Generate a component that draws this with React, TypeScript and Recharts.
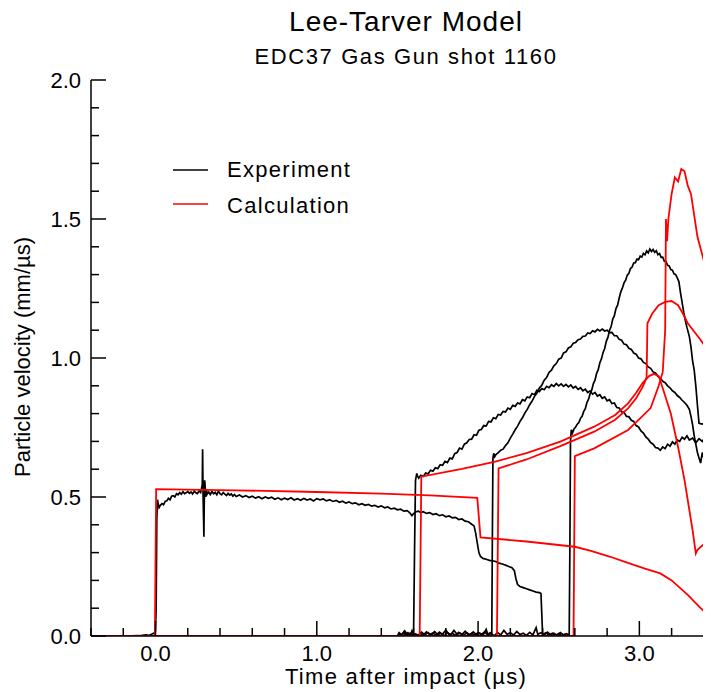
import React from 'react';
import { LineChart, Line, XAxis, YAxis } from 'recharts';

const FONT = "'Liberation Sans', Arial, Helvetica, sans-serif";

const xTicks = [-0.4, -0.2, 0, 0.2, 0.4, 0.6, 0.8, 1, 1.2, 1.4, 1.6, 1.8, 2, 2.2, 2.4, 2.6, 2.8, 3, 3.2, 3.4];
const xMajor = [0, 1, 2, 3];
const yTicks = [0, 0.1, 0.2, 0.3, 0.4, 0.5, 0.6, 0.7, 0.8, 0.9, 1, 1.1, 1.2, 1.3, 1.4, 1.5, 1.6, 1.7, 1.8, 1.9, 2];
const yMajor = [0, 0.5, 1, 1.5, 2];

const title = 'Lee-Tarver Model';
const subtitle = 'EDC37 Gas Gun shot 1160';
const xLabel = 'Time after impact (µs)';
const yLabel = 'Particle velocity (mm/µs)';
const seriesNames = ['Experiment', 'Calculation'];

// Experiment, gauge 1 [time µs, velocity mm/µs]
const exp1 = [[-0.4,0],[-0.2,0],[-0.1,0.001],[-0.06,0.004],[-0.04,0.002],[-0.025,0.006],[-0.012,0.01],[-0.005,0.008],[0.0,0.02],[0.004,0.1],[0.008,0.42],[0.012,0.49],[0.016,0.478],[0.022,0.462],[0.03,0.47],[0.04,0.476],[0.05,0.472],[0.06,0.484],[0.07,0.486],[0.08,0.495],[0.09,0.49],[0.1,0.503],[0.11,0.505],[0.12,0.5],[0.13,0.512],[0.14,0.508],[0.15,0.516],[0.16,0.51],[0.17,0.519],[0.18,0.512],[0.19,0.515],[0.2,0.52],[0.21,0.513],[0.22,0.518],[0.23,0.511],[0.24,0.521],[0.25,0.515],[0.26,0.512],[0.27,0.522],[0.28,0.516],[0.285,0.53],[0.29,0.545],[0.292,0.672],[0.295,0.5],[0.298,0.42],[0.3,0.357],[0.302,0.47],[0.305,0.56],[0.308,0.535],[0.312,0.5],[0.316,0.527],[0.32,0.51],[0.33,0.518],[0.34,0.509],[0.35,0.52],[0.36,0.512],[0.37,0.517],[0.38,0.508],[0.39,0.521],[0.4,0.512],[0.41,0.508],[0.42,0.516],[0.43,0.51],[0.44,0.505],[0.45,0.513],[0.46,0.507],[0.47,0.511],[0.48,0.503],[0.49,0.509],[0.5,0.502],[0.52,0.507],[0.54,0.5],[0.56,0.505],[0.58,0.498],[0.6,0.503],[0.62,0.496],[0.64,0.501],[0.66,0.494],[0.68,0.5],[0.7,0.495],[0.72,0.499],[0.74,0.492],[0.76,0.497],[0.78,0.49],[0.8,0.496],[0.82,0.491],[0.84,0.497],[0.86,0.489],[0.88,0.494],[0.9,0.488],[0.92,0.495],[0.94,0.489],[0.96,0.493],[0.98,0.486],[1.0,0.494],[1.02,0.49],[1.04,0.493],[1.06,0.486],[1.08,0.49],[1.1,0.484],[1.12,0.488],[1.14,0.481],[1.16,0.485],[1.18,0.478],[1.2,0.482],[1.22,0.476],[1.24,0.479],[1.26,0.472],[1.28,0.476],[1.3,0.47],[1.32,0.473],[1.34,0.467],[1.36,0.47],[1.38,0.464],[1.4,0.468],[1.42,0.461],[1.44,0.464],[1.46,0.457],[1.48,0.46],[1.5,0.454],[1.52,0.456],[1.54,0.449],[1.56,0.451],[1.575,0.444],[1.59,0.433],[1.6,0.44],[1.615,0.447],[1.63,0.449],[1.645,0.444],[1.66,0.447],[1.68,0.441],[1.7,0.444],[1.72,0.437],[1.74,0.44],[1.76,0.433],[1.78,0.436],[1.8,0.429],[1.82,0.432],[1.84,0.425],[1.86,0.427],[1.88,0.419],[1.9,0.421],[1.92,0.413],[1.94,0.411],[1.96,0.402],[1.975,0.396],[1.985,0.37],[1.995,0.335],[2.005,0.3],[2.015,0.286],[2.03,0.279],[2.05,0.276],[2.07,0.272],[2.09,0.27],[2.11,0.268],[2.13,0.262],[2.15,0.259],[2.17,0.255],[2.19,0.25],[2.21,0.246],[2.225,0.235],[2.235,0.205],[2.245,0.185],[2.26,0.178],[2.28,0.174],[2.3,0.17],[2.32,0.166],[2.34,0.162],[2.36,0.158],[2.38,0.156],[2.39,0.153],[2.395,0.08],[2.4,0.005],[2.42,0.012],[2.44,0.003],[2.46,0.01],[2.48,0.002],[2.5,0.009],[2.52,0.001],[2.54,0.006],[2.55,0]];

// Experiment, gauge 2
const exp2 = [[1.5,0],[1.515,0.008],[1.525,0.002],[1.54,0.015],[1.55,0.004],[1.565,0.012],[1.58,0.003],[1.59,0.018],[1.6,0.005],[1.606,0.3],[1.612,0.56],[1.62,0.585],[1.625,0.575],[1.632,0.568],[1.645,0.578],[1.66,0.574],[1.675,0.586],[1.69,0.583],[1.705,0.596],[1.72,0.593],[1.735,0.605],[1.75,0.602],[1.765,0.616],[1.78,0.614],[1.795,0.628],[1.81,0.624],[1.825,0.64],[1.84,0.637],[1.855,0.656],[1.87,0.66],[1.885,0.676],[1.9,0.672],[1.915,0.69],[1.93,0.695],[1.945,0.707],[1.96,0.708],[1.975,0.724],[1.99,0.722],[2.005,0.74],[2.02,0.743],[2.035,0.757],[2.05,0.755],[2.065,0.772],[2.08,0.77],[2.095,0.785],[2.11,0.782],[2.125,0.797],[2.14,0.795],[2.155,0.808],[2.17,0.806],[2.185,0.82],[2.2,0.815],[2.215,0.83],[2.23,0.826],[2.245,0.838],[2.26,0.835],[2.275,0.85],[2.29,0.846],[2.305,0.86],[2.32,0.857],[2.335,0.872],[2.35,0.868],[2.365,0.884],[2.38,0.879],[2.395,0.89],[2.41,0.886],[2.425,0.898],[2.44,0.893],[2.455,0.904],[2.47,0.898],[2.485,0.908],[2.5,0.9],[2.515,0.907],[2.53,0.898],[2.545,0.905],[2.56,0.896],[2.575,0.903],[2.59,0.892],[2.605,0.898],[2.62,0.887],[2.635,0.893],[2.65,0.882],[2.665,0.888],[2.68,0.876],[2.695,0.882],[2.71,0.87],[2.725,0.876],[2.74,0.863],[2.755,0.868],[2.77,0.855],[2.785,0.86],[2.8,0.846],[2.815,0.85],[2.83,0.836],[2.845,0.838],[2.86,0.822],[2.875,0.82],[2.89,0.806],[2.905,0.805],[2.92,0.79],[2.935,0.789],[2.95,0.776],[2.965,0.772],[2.98,0.757],[2.995,0.752],[3.01,0.738],[3.025,0.73],[3.04,0.716],[3.055,0.708],[3.07,0.696],[3.085,0.69],[3.1,0.678],[3.115,0.676],[3.13,0.668],[3.145,0.68],[3.16,0.674],[3.175,0.69],[3.19,0.683],[3.205,0.698],[3.22,0.69],[3.235,0.705],[3.25,0.7],[3.265,0.715],[3.28,0.708],[3.295,0.72],[3.31,0.705],[3.33,0.712],[3.35,0.695],[3.37,0.71],[3.39,0.7],[3.41,0.718],[3.43,0.708],[3.45,0.722],[3.5,0.73]];

// Experiment, gauge 3
const exp3 = [[1.5,0],[1.52,0.006],[1.535,0.0],[1.55,0.01],[1.57,0.002],[1.59,-0.005],[1.61,0.008],[1.63,0.003],[1.65,0.014],[1.67,0.004],[1.69,0.012],[1.71,0.002],[1.73,0.016],[1.75,0.005],[1.77,0.009],[1.79,0.001],[1.81,0.013],[1.83,0.004],[1.85,0.02],[1.87,0.006],[1.89,0.01],[1.91,0.002],[1.93,0.012],[1.95,0.003],[1.97,0.015],[1.99,0.005],[2.01,0.011],[2.03,0.002],[2.05,0.024],[2.06,0.006],[2.075,0.012],[2.085,0.003],[2.088,0.3],[2.092,0.64],[2.097,0.657],[2.103,0.645],[2.11,0.652],[2.125,0.66],[2.14,0.668],[2.155,0.672],[2.17,0.685],[2.185,0.695],[2.2,0.712],[2.215,0.726],[2.23,0.742],[2.245,0.755],[2.26,0.772],[2.275,0.785],[2.29,0.802],[2.305,0.815],[2.32,0.832],[2.335,0.845],[2.35,0.862],[2.365,0.874],[2.38,0.892],[2.395,0.902],[2.41,0.92],[2.425,0.93],[2.44,0.948],[2.455,0.956],[2.47,0.972],[2.485,0.98],[2.5,0.996],[2.515,1.0],[2.53,1.018],[2.545,1.022],[2.56,1.036],[2.575,1.04],[2.59,1.053],[2.605,1.056],[2.62,1.066],[2.635,1.068],[2.65,1.078],[2.665,1.079],[2.68,1.09],[2.695,1.088],[2.71,1.098],[2.725,1.094],[2.74,1.103],[2.755,1.097],[2.77,1.104],[2.785,1.097],[2.8,1.1],[2.815,1.091],[2.83,1.092],[2.845,1.08],[2.86,1.08],[2.875,1.067],[2.89,1.064],[2.905,1.05],[2.92,1.048],[2.935,1.035],[2.95,1.031],[2.965,1.018],[2.98,1.014],[2.995,1.0],[3.01,0.997],[3.025,0.984],[3.04,0.98],[3.055,0.968],[3.07,0.963],[3.085,0.95],[3.1,0.946],[3.115,0.934],[3.13,0.928],[3.145,0.916],[3.16,0.911],[3.175,0.9],[3.19,0.893],[3.205,0.882],[3.22,0.876],[3.235,0.865],[3.25,0.858],[3.265,0.848],[3.28,0.84],[3.295,0.83],[3.31,0.815],[3.32,0.79],[3.33,0.76],[3.34,0.72],[3.35,0.69],[3.36,0.66],[3.37,0.64],[3.38,0.622],[3.39,0.66],[3.4,0.64],[3.41,0.68],[3.42,0.7],[3.43,0.69],[3.45,0.72],[3.5,0.74]];

// Experiment, gauge 4
const exp4 = [[1.5,0],[1.51,0.012],[1.525,0.004],[1.545,0.018],[1.56,0.006],[1.58,0.01],[1.6,0.0],[1.62,-0.006],[1.64,0.009],[1.66,0.003],[1.68,0.015],[1.7,0.005],[1.72,0.011],[1.74,0.002],[1.76,0.014],[1.78,0.006],[1.8,0.022],[1.82,0.004],[1.84,0.01],[1.86,0.002],[1.88,0.013],[1.9,0.005],[1.92,0.017],[1.94,0.004],[1.96,0.01],[1.98,0.002],[2.0,0.012],[2.02,0.005],[2.04,0.015],[2.06,0.004],[2.08,0.01],[2.1,0.0],[2.12,0.013],[2.14,0.004],[2.16,0.02],[2.18,0.006],[2.2,0.012],[2.22,0.003],[2.24,0.016],[2.26,0.005],[2.28,0.01],[2.3,0.002],[2.32,0.013],[2.34,0.004],[2.36,0.03],[2.37,0.006],[2.39,0.012],[2.41,0.003],[2.43,0.014],[2.45,0.005],[2.47,0.01],[2.49,0.002],[2.51,0.012],[2.53,0.004],[2.55,0.008],[2.565,0.002],[2.569,0.3],[2.573,0.7],[2.578,0.742],[2.585,0.73],[2.595,0.745],[2.605,0.752],[2.615,0.762],[2.625,0.768],[2.635,0.783],[2.645,0.79],[2.655,0.808],[2.665,0.818],[2.675,0.84],[2.685,0.852],[2.695,0.872],[2.705,0.885],[2.715,0.908],[2.725,0.92],[2.735,0.945],[2.745,0.958],[2.755,0.983],[2.765,0.997],[2.775,1.02],[2.785,1.034],[2.795,1.06],[2.805,1.074],[2.815,1.1],[2.825,1.113],[2.835,1.14],[2.845,1.152],[2.855,1.178],[2.865,1.19],[2.875,1.216],[2.885,1.238],[2.895,1.252],[2.905,1.27],[2.915,1.28],[2.925,1.298],[2.935,1.305],[2.945,1.322],[2.955,1.327],[2.965,1.342],[2.975,1.343],[2.985,1.356],[2.995,1.354],[3.005,1.366],[3.015,1.363],[3.025,1.376],[3.035,1.371],[3.045,1.385],[3.055,1.378],[3.065,1.392],[3.075,1.383],[3.085,1.39],[3.095,1.38],[3.105,1.386],[3.115,1.372],[3.125,1.376],[3.135,1.362],[3.145,1.363],[3.155,1.348],[3.165,1.347],[3.175,1.333],[3.185,1.331],[3.195,1.318],[3.205,1.316],[3.215,1.303],[3.225,1.3],[3.235,1.288],[3.245,1.275],[3.255,1.235],[3.265,1.2],[3.275,1.165],[3.285,1.135],[3.295,1.11],[3.31,1.077],[3.32,1.04],[3.33,0.99],[3.34,0.957],[3.35,0.9],[3.36,0.83],[3.37,0.765],[3.39,0.762],[3.41,0.766],[3.43,0.764],[3.432,0.93],[3.5,0.95]];

// Calculations
const calc1 = [[-0.4,0],[-0.004,0],[0.004,0.528],[0.5,0.524],[1.0,0.518],[1.4,0.512],[1.7,0.506],[1.995,0.497],[2.015,0.355],[2.3,0.34],[2.6,0.321],[2.7,0.306],[2.82,0.285],[2.92,0.265],[3.03,0.243],[3.13,0.225],[3.2,0.2],[3.3,0.148],[3.38,0.1],[3.45,0.064],[3.5,0.038]];
const calc2 = [[-0.4,0],[1.638,0],[1.648,0.573],[1.9,0.601],[2.1,0.626],[2.3,0.658],[2.51,0.699],[2.72,0.753],[2.85,0.795],[2.93,0.837],[2.98,0.875],[3.02,0.91],[3.06,0.935],[3.09,0.943],[3.12,0.935],[3.14,0.9],[3.195,0.8],[3.24,0.68],[3.28,0.561],[3.33,0.381],[3.35,0.297],[3.36,0.31],[3.4,0.33],[3.45,0.345],[3.5,0.36]];
const calc3 = [[-0.4,0],[2.117,0],[2.127,0.603],[2.3,0.635],[2.51,0.683],[2.72,0.735],[2.85,0.778],[2.93,0.819],[2.98,0.855],[3.02,0.895],[3.045,0.93],[3.05,1.125],[3.08,1.16],[3.12,1.19],[3.16,1.202],[3.2,1.205],[3.24,1.19],[3.27,1.16],[3.3,1.125],[3.36,1.08],[3.38,1.065],[3.45,1.005],[3.5,0.965]];
const calc4 = [[-0.4,0],[2.592,0],[2.6,0.647],[2.72,0.675],[2.93,0.741],[3.0,0.78],[3.07,0.82],[3.12,0.9],[3.145,0.95],[3.16,1.1],[3.165,1.5],[3.172,1.42],[3.18,1.5],[3.2,1.59],[3.22,1.65],[3.24,1.635],[3.26,1.68],[3.28,1.672],[3.3,1.62],[3.32,1.59],[3.36,1.437],[3.4,1.35],[3.45,1.27],[3.5,1.2]];

const experiments = [exp1, exp2, exp3, exp4];
const calculations = [calc1, calc2, calc3, calc4];

const toRows = (pts: number[][]) => pts.map(([t, v]) => ({ t, v }));
const near = (a: number, b: number) => Math.abs(a - b) < 1e-6;
const isXMajor = (v: number) => xMajor.some((m) => near(m, v));
const isYMajor = (v: number) => yMajor.some((m) => near(m, v));

const TM = 4;
const MAJOR = 15;
const MINOR = 8;
const TICK_FS = 22;

const BottomTick = (p: any) => {
  const { x, y, payload } = p;
  const base = y - TM;
  const major = isXMajor(payload.value);
  return (
    <g>
      <line x1={x} x2={x} y1={base} y2={base - (major ? MAJOR : MINOR)} stroke="#000" strokeWidth={1.5} />
      {major && (
        <text x={x} y={base + 25} textAnchor="middle" fontSize={TICK_FS} fontFamily={FONT} fill="#000">
          {payload.value.toFixed(1)}
        </text>
      )}
    </g>
  );
};

const TopTick = (p: any) => {
  const { x, y, payload } = p;
  const base = y + TM;
  const major = isXMajor(payload.value);
  return <line x1={x} x2={x} y1={base} y2={base + (major ? MAJOR : MINOR)} stroke="#000" strokeWidth={1.5} />;
};

const LeftTick = (p: any) => {
  const { x, y, payload } = p;
  const ax = x + TM;
  const major = isYMajor(payload.value);
  return (
    <g>
      <line x1={ax} x2={ax + (major ? MAJOR : MINOR)} y1={y} y2={y} stroke="#000" strokeWidth={1.5} />
      {major && (
        <text x={ax - 10} y={y + 8} textAnchor="end" fontSize={TICK_FS} fontFamily={FONT} fill="#000">
          {payload.value.toFixed(1)}
        </text>
      )}
    </g>
  );
};

const RightTick = (p: any) => {
  const { x, y, payload } = p;
  const ax = x - TM;
  const major = isYMajor(payload.value);
  return <line x1={ax} x2={ax - (major ? MAJOR : MINOR)} y1={y} y2={y} stroke="#000" strokeWidth={1.5} />;
};

export default function App() {
  return (
    <div
      style={{
        position: 'relative',
        marginLeft: -8,
        marginTop: -8,
        width: 711,
        height: 692,
        overflow: 'hidden',
        fontFamily: FONT,
        background: '#fff',
      }}
    >
      <LineChart width={740} height={692} margin={{ top: 80, right: 18, bottom: 0, left: 0 }}>
        <XAxis
          xAxisId="b"
          orientation="bottom"
          type="number"
          dataKey="t"
          domain={[-0.4, 3.5]}
          allowDataOverflow
          ticks={xTicks}
          interval={0}
          height={56}
          tickSize={0}
          tickMargin={TM}
          tickLine={false}
          axisLine={{ stroke: '#000', strokeWidth: 1.5 }}
          tick={(p: any) => <BottomTick {...p} />}
        />
        <XAxis
          xAxisId="top"
          orientation="top"
          type="number"
          dataKey="t"
          domain={[-0.4, 3.5]}
          allowDataOverflow
          ticks={xTicks}
          interval={0}
          height={0}
          tickSize={0}
          tickMargin={TM}
          tickLine={false}
          axisLine={{ stroke: '#000', strokeWidth: 1.5 }}
          tick={(p: any) => <TopTick {...p} />}
        />
        <YAxis
          yAxisId="l"
          orientation="left"
          type="number"
          domain={[0, 2]}
          allowDataOverflow
          ticks={yTicks}
          interval={0}
          width={91}
          tickSize={0}
          tickMargin={TM}
          tickLine={false}
          axisLine={{ stroke: '#000', strokeWidth: 1.5 }}
          tick={(p: any) => <LeftTick {...p} />}
        />
        <YAxis
          yAxisId="r"
          orientation="right"
          type="number"
          domain={[0, 2]}
          allowDataOverflow
          ticks={yTicks}
          interval={0}
          width={2}
          tickSize={0}
          tickMargin={TM}
          tickLine={false}
          axisLine={{ stroke: '#000', strokeWidth: 1.5 }}
          tick={(p: any) => <RightTick {...p} />}
        />
        {experiments.map((s, i) => (
          <Line
            key={'e' + i}
            xAxisId="b"
            yAxisId="l"
            data={toRows(s)}
            dataKey="v"
            type="linear"
            stroke="#000"
            strokeWidth={1.7}
            dot={false}
            isAnimationActive={false}
          />
        ))}
        {calculations.map((s, i) => (
          <Line
            key={'c' + i}
            xAxisId="b"
            yAxisId="l"
            data={toRows(s)}
            dataKey="v"
            type="linear"
            stroke="#ff0000"
            strokeWidth={1.8}
            dot={false}
            isAnimationActive={false}
          />
        ))}
      </LineChart>
      <svg
        width={711}
        height={692}
        style={{ position: 'absolute', left: 0, top: 0, pointerEvents: 'none' }}
        fontFamily={FONT}
      >
        <text x={406} y={31} textAnchor="middle" fontSize={28} letterSpacing={1} fill="#000">{title}</text>
        <text x={406} y={64} textAnchor="middle" fontSize={22} letterSpacing={1.6} fill="#000">{subtitle}</text>
        <text x={406} y={684} textAnchor="middle" fontSize={22} letterSpacing={1.3} fill="#000">{xLabel}</text>
        <text
          x={0}
          y={0}
          transform="translate(30,357) rotate(-90)"
          textAnchor="middle"
          fontSize={22}
          fill="#000"
        >
          {yLabel}
        </text>
        <line x1={173} x2={208} y1={170} y2={170} stroke="#000" strokeWidth={1.5} />
        <text x={227} y={177} fontSize={22} letterSpacing={1.3} fill="#000">{seriesNames[0]}</text>
        <line x1={173} x2={208} y1={204} y2={204} stroke="#ff0000" strokeWidth={1.5} />
        <text x={227} y={213} fontSize={22} letterSpacing={1.3} fill="#000">{seriesNames[1]}</text>
      </svg>
    </div>
  );
}
